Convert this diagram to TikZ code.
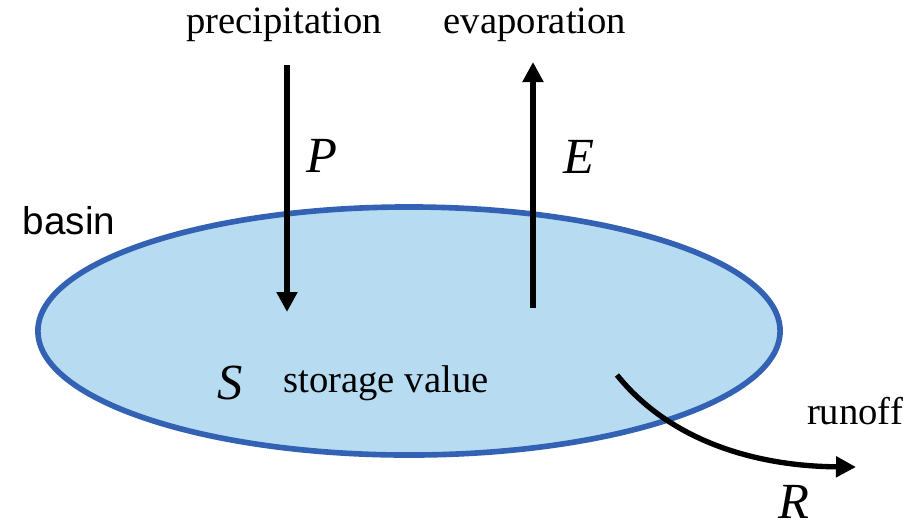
\documentclass[tikz,border=0pt]{standalone}
\usepackage{fontspec}
\setmainfont{Liberation Serif}
\setsansfont{Liberation Sans}
\usetikzlibrary{arrows.meta,shapes.geometric}
\definecolor{basinfill}{HTML}{B7DCF2}
\definecolor{basinline}{HTML}{3362B4}

\begin{document}
\begin{tikzpicture}
  [
  x=0.025cm, y=-0.025cm,
  basinshape/.style={draw=basinline, fill=basinfill, ellipse, line width=4pt, minimum width=18.55cm, minimum height=6.2cm},
  flowarrow/.style={draw, -{Triangle[length=5mm, width=5mm]}, line width=3.8pt},
  word/.style={font=\fontsize{27.5}{33}\selectfont, inner sep=0pt},
  symb/.style={font=\fontsize{36}{40}\selectfont\itshape, inner sep=0pt}
  ]
  \useasboundingbox[fill=white] (0,0) rectangle (916,529);
  \node[basinshape] (basin) at (409,331) {};
  \node[word, font=\fontsize{27.5}{33}\selectfont\sffamily] (basinlbl) at (69,221) {basin};
  % inflow and outflow
  \coordinate (ptop) at (287,65);
  \coordinate (pbot) at (287,312);
  \coordinate (ebot) at (533,308);
  \coordinate (etop) at (533,62);
  \coordinate (rstart) at (617,375);
  \coordinate (rend) at (856,467);
  \draw[flowarrow] (ptop) -- (pbot);
  \draw[flowarrow] (ebot) -- (etop);
  \draw[flowarrow] (rstart) .. controls (665,435) and (745,466) .. (rend);
  % labels
  \node[word] (precip) at (284,25) {precipitation};
  \node[word] (evap) at (535,25) {evaporation};
  \node[symb] (plbl) at (322,156) {P};
  \node[symb] (elbl) at (579,157) {E};
  \node[symb] (slbl) at (230,383) {S};
  \node[word] (store) at (386,383) {storage value};
  \node[word] (runoff) at (855,411) {runoff};
  \node[symb] (rlbl) at (794,502) {R};
\end{tikzpicture}
\end{document}
